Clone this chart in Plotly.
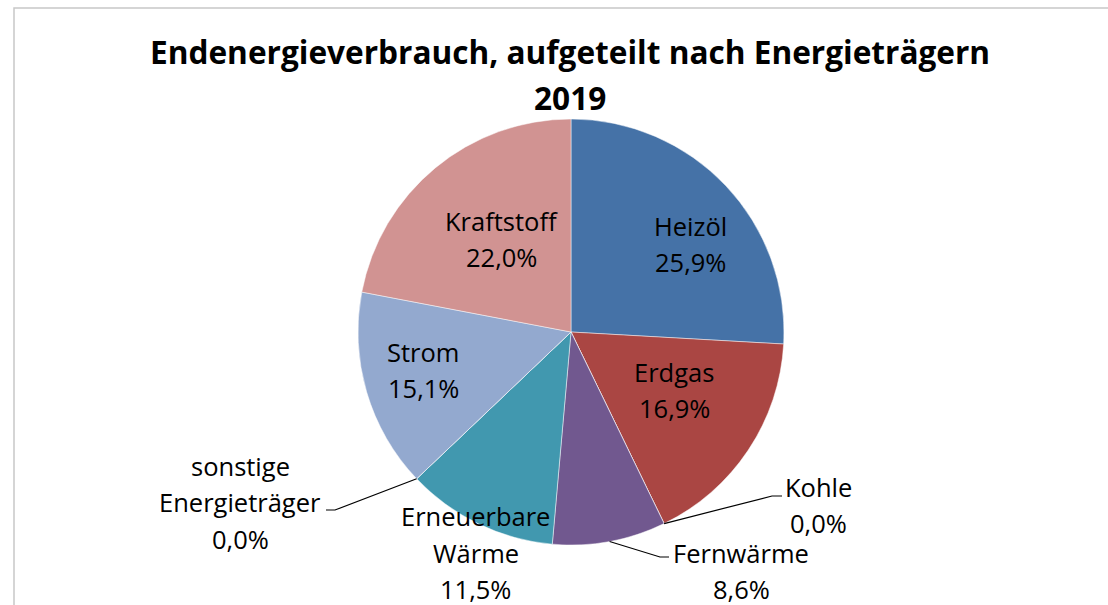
import math
import plotly.graph_objects as go

# ---------------- data ----------------
categories = ["Heizöl", "Erdgas", "Kohle", "Fernwärme", "Erneuerbare Wärme",
              "sonstige Energieträger", "Strom", "Kraftstoff"]
shares = [25.9, 16.9, 0.0, 8.6, 11.5, 0.0, 15.1, 22.0]
colors = ["#4572A7", "#AA4643", "#89A54E", "#71588F", "#4198AF",
          "#DB843D", "#93A9CF", "#D19392"]
label_lines = [["Heizöl"], ["Erdgas"], ["Kohle"], ["Fernwärme"],
               ["Erneuerbare", "Wärme"], ["sonstige", "Energieträger"],
               ["Strom"], ["Kraftstoff"]]
title_lines = ["Endenergieverbrauch, aufgeteilt nach Energieträgern", "2019"]

# ---------------- layout constants ----------------
W, H = 1108, 605
CX, CY, R = 571, 332, 213
FONT = "Open Sans"
LABEL_SIZE = 25.5
LINE_GAP = 36.5


def px(x):
    return x / W


def py(y):
    return 1 - y / H


def polar(angle_deg, rf):
    a = math.radians(angle_deg)
    return CX + R * rf * math.sin(a), CY - R * rf * math.cos(a)


total = sum(shares)
mids = []
acc = 0.0
for v in shares:
    a0 = acc / total * 360
    acc += v
    a1 = acc / total * 360
    mids.append((a0 + a1) / 2)

pct_text = [f"{v / total * 100:.1f}".replace(".", ",") + "%" for v in shares]

fig = go.Figure()
fig.add_trace(go.Pie(
    labels=categories, values=shares, sort=False, direction="clockwise",
    rotation=0, marker=dict(colors=colors, line=dict(color="rgba(255,255,255,0.6)", width=0.8)),
    textinfo="none", hoverinfo="label+percent", showlegend=False,
    domain=dict(x=[px(CX - R), px(CX + R)], y=[py(CY + R), py(CY - R)]),
))

annotations = []
shapes = []


def add_lines(lines, cx, cy, size=LABEL_SIZE, bold=False, gap=LINE_GAP):
    n = len(lines)
    for i, t in enumerate(lines):
        y = cy + (i - (n - 1) / 2) * gap
        annotations.append(dict(
            x=px(cx), y=py(y), xref="paper", yref="paper", text=t,
            showarrow=False, xanchor="center", yanchor="middle", borderpad=0,
            font=dict(family=FONT, size=size, color="#000000",
                      weight="bold" if bold else "normal")))


# inside / near labels placed by slice mid-angle (angle tweak, radius factor)
polar_place = {0: (6.9, 0.695), 1: (-4.3, 0.555), 6: (2.0, 0.717),
               7: (3.0, 0.544), 4: (-2.4, 1.13)}
for i, (da, rf) in polar_place.items():
    cx, cy = polar(mids[i] + da, rf)
    add_lines(label_lines[i] + [pct_text[i]], cx, cy)

# labels with leader lines: (elbow x, elbow y, end x, label center x, label center y)
leader_place = {2: (772, 496, 782, 818, 505),
                3: (660, 557, 669, 741, 571),
                5: (335, 510, 326, 240, 502)}
for i, (ex, ey, hx, lx, ly) in leader_place.items():
    sx, sy = polar(mids[i], 1.0)
    shapes.append(dict(type="path", xref="paper", yref="paper",
                       path=f"M {px(sx)} {py(sy)} L {px(ex)} {py(ey)} L {px(hx)} {py(ey)}",
                       line=dict(color="#000000", width=1.2)))
    add_lines(label_lines[i] + [pct_text[i]], lx, ly)

# title
add_lines(title_lines, 570, 74.5, size=31.6, bold=True, gap=45)

# chart area border
shapes.append(dict(type="rect", xref="paper", yref="paper",
                   x0=px(14), y0=py(8), x1=px(W + 20), y1=py(H + 20),
                   line=dict(color="#C8C8C8", width=1.5), fillcolor="rgba(0,0,0,0)"))

fig.update_layout(
    width=W, height=H, autosize=False,
    margin=dict(l=0, r=0, t=0, b=0),
    paper_bgcolor="#FFFFFF", plot_bgcolor="#FFFFFF",
    annotations=annotations, shapes=shapes,
    font=dict(family=FONT),
)

fig.write_html("out.html", config={"displayModeBar": False},
               post_script="document.body.style.margin='0';document.body.style.overflow='hidden';")
